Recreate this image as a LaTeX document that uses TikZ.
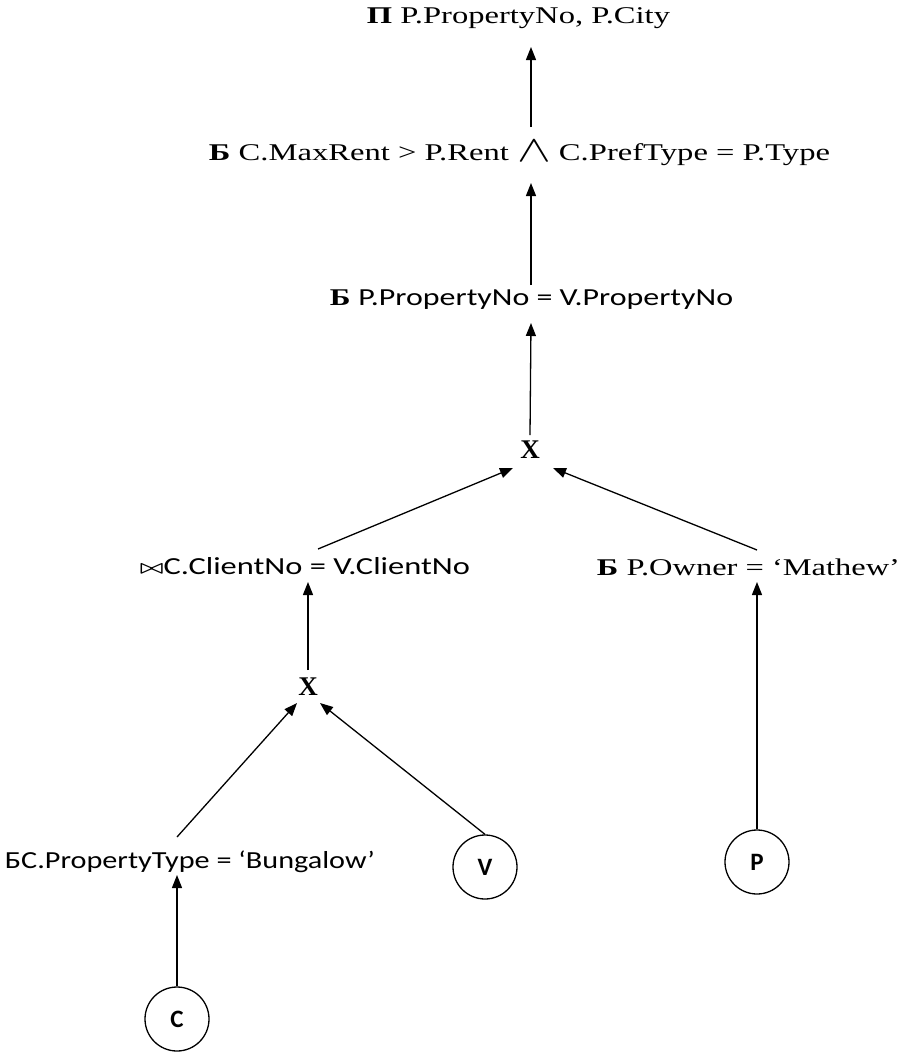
\documentclass[tikz,border=0pt]{standalone}
\usepackage{amsmath}
\usepackage{fontspec}
\setmainfont{Liberation Serif}
\newfontfamily\calfont{Carlito}
\usetikzlibrary{arrows.meta}
\newcommand\fitw[2]{\resizebox{#1}{\height}{#2}}
\tikzset{
  lbl/.style={inner sep=0pt, anchor=center, font=\fontsize{24}{26}\selectfont},
  cl/.style={inner sep=0pt, anchor=center, font=\calfont\fontsize{24.5}{26}\selectfont},
  opx/.style={inner sep=0pt, anchor=center, font=\fontsize{27}{29}\selectfont\bfseries},
  leaf/.style={circle, draw, line width=1.3pt, minimum size=64pt, inner sep=0pt, font=\calfont\bfseries\fontsize{25}{27}\selectfont},
  arr/.style={line width=1.3pt, -{Triangle[length=13pt,width=10pt]}}
}
\begin{document}
\begin{tikzpicture}[x=1pt,y=-1pt]
\useasboundingbox (0,0) rectangle (913,1052);
\node[lbl] (proj) at (518.5,18) {\fitw{303pt}{\textbf{Π} P.PropertyNo, P.City}};
\node[lbl] (sel1) at (519.5,153) {\fitw{621pt}{\textbf{Б} C.MaxRent > P.Rent \raisebox{-0.5pt}{\scalebox{1.5}{$\land$}} C.PrefType = P.Type}};
\node[lbl] (sel2) at (531.5,300) {\fitw{403pt}{\textbf{Б} {\calfont\fontsize{24.5}{26}\selectfont P.PropertyNo = V.PropertyNo}}};
\node[opx] (x1) at (530,450) {X};
\node[cl] (join) at (305,566) {\fitw{330pt}{\raisebox{1pt}{\scalebox{0.75}{$\boldsymbol{\bowtie}$}}C.ClientNo = V.ClientNo}};
\node[lbl] (own) at (748.5,567) {\fitw{303pt}{\textbf{Б} P.Owner = ‘Mathew’}};
\node[opx] (x2) at (308,687) {X};
\node[cl] (selc) at (190,862) {\fitw{370pt}{БC.PropertyType = ‘Bungalow’}};
\node[leaf] (v) at (485,867) {V};
\node[leaf] (p) at (757,862) {P};
\node[leaf] (c) at (177,1019) {C};
\coordinate (ax) at (531,0);
% connectors
\draw[arr] ([yshift=26pt]sel1.center -| ax) -- ([yshift=-29pt]proj.center -| ax);
\draw[arr] ([yshift=15pt]sel2.center -| ax) -- ([yshift=-30pt]sel1.center -| ax);
\draw[arr] ([yshift=15pt]x1.center) -- ([yshift=-23pt]sel2.center -| ax);
\draw[arr] ([xshift=13pt,yshift=17pt]join.center) -- ([xshift=-17pt,yshift=-18pt]x1.center);
\draw[arr] ([yshift=17pt]own.center -| p.north) -- ([xshift=23pt,yshift=-18pt]x1.center);
\draw[arr] ([yshift=17pt]x2.center) -- ([yshift=-16pt]join.center -| x2.center);
\draw[arr] (p.north) -- ([yshift=-15pt]own.center -| p.north);
\draw[arr] ([yshift=25pt]selc.center -| c.north) -- ([xshift=-11pt,yshift=-16pt]x2.center);
\draw[arr] (v.north) -- ([xshift=12pt,yshift=-16pt]x2.center);
\draw[arr] (c.north) -- ([yshift=-13pt]selc.center -| c.north);
\end{tikzpicture}
\end{document}
